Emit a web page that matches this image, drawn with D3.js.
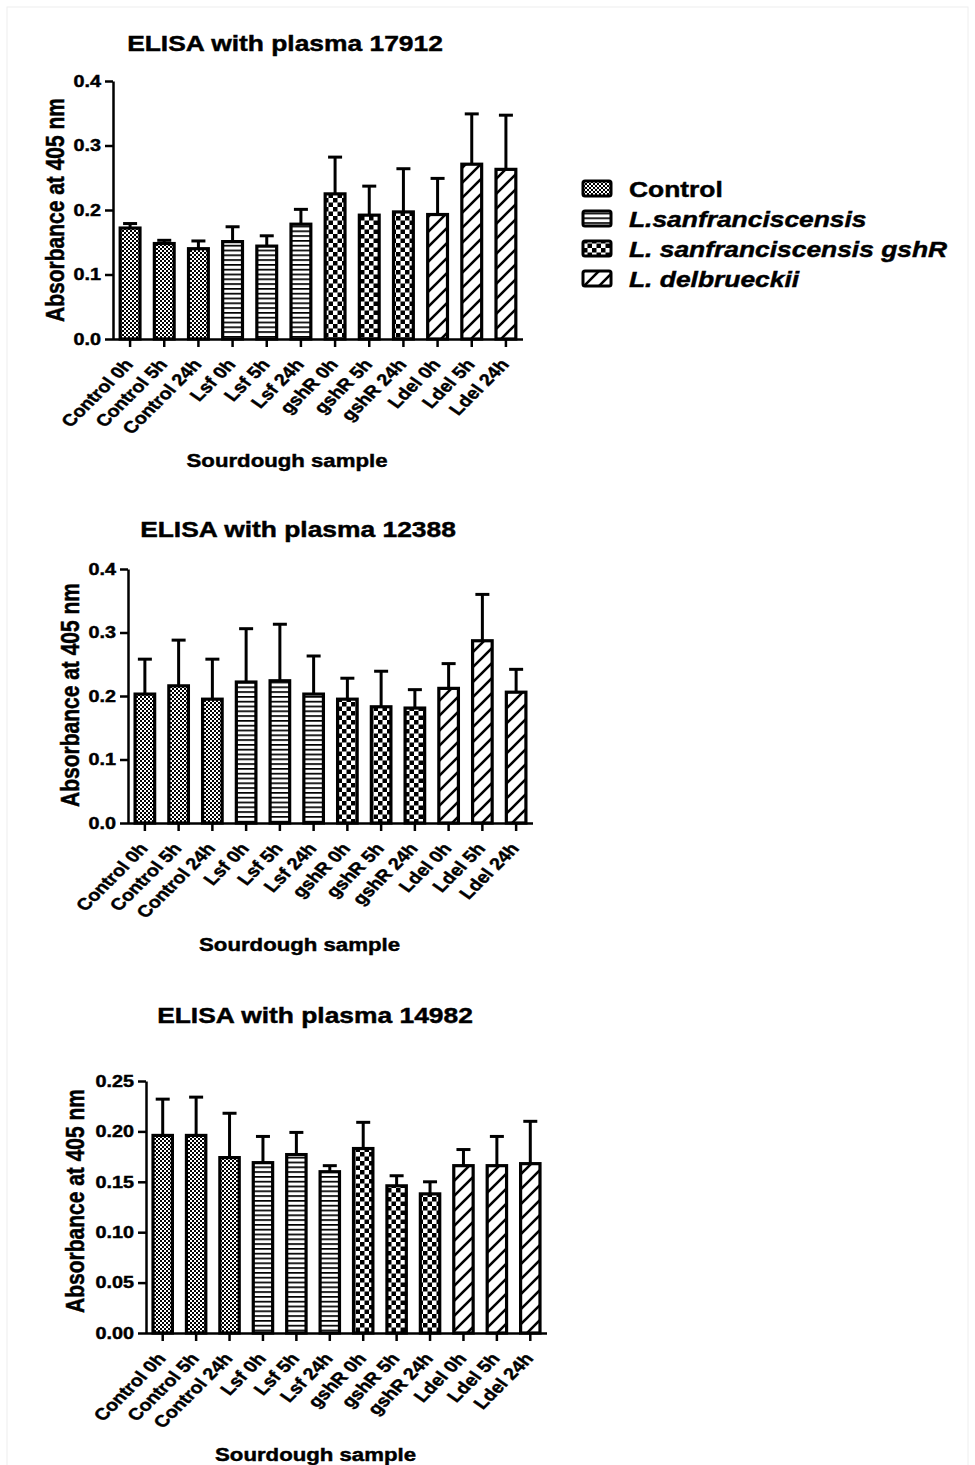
<!DOCTYPE html>
<html lang="en">
<head>
    <meta charset="UTF-8">
    <title>ELISA with plasma</title>
    <script src="https://d3js.org/d3.v7.min.js"></script>
    <style>
        body { margin: 0; background: #fff; }
        text { font-family: "Liberation Sans", Arial, sans-serif; font-weight: bold; fill: #000;
               stroke: #000; stroke-width: 0.45px; }
    </style>
</head>
<body>
<script>
    // samples on the x axis and the strain group of each
    const samples = ["Control 0h", "Control 5h", "Control 24h", "Lsf 0h", "Lsf 5h", "Lsf 24h",
        "gshR 0h", "gshR 5h", "gshR 24h", "Ldel 0h", "Ldel 5h", "Ldel 24h"];
    const sampleGroup = ["control", "control", "control", "lsf", "lsf", "lsf",
        "gshr", "gshr", "gshr", "ldel", "ldel", "ldel"];

    // mean absorbance and SD (upper error bar only)
    const mean17912 = [0.172, 0.148, 0.140, 0.151, 0.144, 0.178, 0.225, 0.192, 0.197, 0.193, 0.271, 0.263];
    const sd17912   = [0.007, 0.005, 0.012, 0.023, 0.016, 0.023, 0.057, 0.045, 0.067, 0.056, 0.078, 0.084];
    const mean12388 = [0.203, 0.216, 0.195, 0.222, 0.224, 0.203, 0.195, 0.183, 0.181, 0.212, 0.287, 0.206];
    const sd12388   = [0.055, 0.072, 0.063, 0.084, 0.089, 0.060, 0.033, 0.056, 0.029, 0.039, 0.073, 0.036];
    const mean14982 = [0.196, 0.196, 0.174, 0.169, 0.177, 0.160, 0.183, 0.146, 0.138, 0.166, 0.166, 0.168];
    const sd14982   = [0.036, 0.038, 0.044, 0.026, 0.022, 0.006, 0.026, 0.010, 0.012, 0.016, 0.029, 0.042];

    const ticks04 = [0, 0.1, 0.2, 0.3, 0.4];
    const ticks025 = [0, 0.05, 0.10, 0.15, 0.20, 0.25];

    const legendKeys = ["control", "lsf", "gshr", "ldel"];
    const legendLabels = ["Control", "L.sanfranciscensis", "L. sanfranciscensis gshR", "L. delbrueckii"];

    const width = 975, height = 1465;
    const SX = 1.2; // the figure's lettering is a little stretched sideways

    const svg = d3.select("body").append("svg")
        .attr("width", width)
        .attr("height", height);

    // faint frame
    svg.append("rect")
        .attr("x", 7).attr("y", 7)
        .attr("width", 961).attr("height", 1480)
        .attr("fill", "none")
        .attr("stroke", "#eeeeee");

    // fill patterns
    const defs = svg.append("defs");
    const pc = defs.append("pattern").attr("id", "p-control")
        .attr("patternUnits", "userSpaceOnUse").attr("width", 4).attr("height", 4);
    pc.append("rect").attr("width", 4).attr("height", 4).attr("fill", "#fff");
    pc.append("rect").attr("width", 2).attr("height", 2).attr("fill", "#000");
    pc.append("rect").attr("x", 2).attr("y", 2).attr("width", 2).attr("height", 2).attr("fill", "#000");

    const pl = defs.append("pattern").attr("id", "p-lsf")
        .attr("patternUnits", "userSpaceOnUse").attr("width", 8).attr("height", 4.8);
    pl.append("rect").attr("width", 8).attr("height", 4.8).attr("fill", "#fff");
    pl.append("rect").attr("y", 0).attr("width", 8).attr("height", 1.7).attr("fill", "#000");

    const pg = defs.append("pattern").attr("id", "p-gshr")
        .attr("patternUnits", "userSpaceOnUse").attr("width", 9).attr("height", 9);
    pg.append("rect").attr("width", 9).attr("height", 9).attr("fill", "#fff");
    pg.append("rect").attr("width", 4.5).attr("height", 4.5).attr("fill", "#000");
    pg.append("rect").attr("x", 4.5).attr("y", 4.5).attr("width", 4.5).attr("height", 4.5).attr("fill", "#000");

    const pd = defs.append("pattern").attr("id", "p-ldel")
        .attr("patternUnits", "userSpaceOnUse").attr("width", 15).attr("height", 15);
    pd.append("rect").attr("width", 15).attr("height", 15).attr("fill", "#fff");
    pd.append("path").attr("d", "M-2,2 L2,-2 M0,15 L15,0 M13,17 L17,13")
        .attr("stroke", "#000").attr("stroke-width", 2.6);

    const fillOf = g => `url(#p-${g})`;

    function panel(cfg) {
        const x = d3.scaleBand().domain(samples)
            .range([cfg.x0, cfg.x1]).paddingInner(0.42).paddingOuter(0.21);
        const y = d3.scaleLinear().domain([0, cfg.ymax]).range([cfg.y0, cfg.y1]);

        const g = svg.append("g");

        const rows = samples.map((s, i) => ({ s, grp: sampleGroup[i], v: cfg.mean[i], e: cfg.sd[i] }));

        // error bars (upper only)
        const eb = g.append("g").selectAll("g").data(rows).join("g")
            .attr("stroke", "#000").attr("stroke-width", 3);
        eb.append("line")
            .attr("x1", d => x(d.s) + x.bandwidth() / 2).attr("x2", d => x(d.s) + x.bandwidth() / 2)
            .attr("y1", d => y(d.v)).attr("y2", d => y(d.v + d.e));
        eb.append("line")
            .attr("x1", d => x(d.s) + x.bandwidth() / 2 - 7).attr("x2", d => x(d.s) + x.bandwidth() / 2 + 7)
            .attr("y1", d => y(d.v + d.e)).attr("y2", d => y(d.v + d.e));

        // bars
        g.append("g").selectAll("rect").data(rows).join("rect")
            .attr("x", d => x(d.s))
            .attr("y", d => y(d.v))
            .attr("width", x.bandwidth())
            .attr("height", d => y(0) - y(d.v))
            .attr("fill", d => fillOf(d.grp))
            .attr("stroke", "#000")
            .attr("stroke-width", 3.2);

        // y axis
        const ya = g.append("g")
            .attr("transform", `translate(${cfg.x0},0)`)
            .call(d3.axisLeft(y).tickValues(cfg.ticks).tickFormat(d3.format(cfg.fmt))
                .tickSize(8).tickSizeOuter(0).tickPadding(3));
        ya.selectAll("path, line").attr("stroke", "#000").attr("stroke-width", 2.5);
        ya.selectAll("text")
            .attr("font-size", 16.5)
            .attr("font-family", null)
            .attr("fill", null)
            .attr("transform", `scale(${SX},1)`)
            .attr("x", -12 / SX);

        // x axis
        const xa = g.append("g")
            .attr("transform", `translate(0,${cfg.y0})`)
            .call(d3.axisBottom(x).tickSize(8).tickSizeOuter(0).tickFormat(""));
        xa.select("path").attr("d", `M${cfg.x0},0.5H${cfg.x1}`);
        xa.selectAll("path, line").attr("stroke", "#000").attr("stroke-width", 2.5);

        // rotated sample labels
        g.append("g").selectAll("text").data(samples).join("text")
            .attr("transform", s => `translate(${x(s) + x.bandwidth() / 2 + 4},${cfg.y0 + 26}) scale(${SX},1) rotate(-50)`)
            .attr("text-anchor", "end")
            .attr("font-size", 16.5)
            .text(s => s);

        // titles
        g.append("text")
            .attr("transform", `translate(${cfg.tx},${cfg.ty}) scale(${SX},1)`)
            .attr("text-anchor", "middle")
            .attr("font-size", 22)
            .text(cfg.title);

        g.append("text")
            .attr("transform", `translate(${(cfg.x0 + cfg.x1) / 2 - 31},${cfg.y0 + 128}) scale(${SX},1)`)
            .attr("text-anchor", "middle")
            .attr("font-size", 18.5)
            .text("Sourdough sample");

        g.append("text")
            .attr("transform", `translate(${cfg.yl},${cfg.yc}) scale(${SX},1) rotate(-90)`)
            .attr("text-anchor", "middle")
            .attr("dy", "0.35em")
            .attr("font-size", 21)
            .text("Absorbance at 405 nm");
    }

    panel({ title: "ELISA with plasma 17912", mean: mean17912, sd: sd17912, ymax: 0.4, ticks: ticks04, fmt: ".1f",
        x0: 113, x1: 523, y0: 339, y1: 81, tx: 285, ty: 51, yl: 55, yc: 210 });
    panel({ title: "ELISA with plasma 12388", mean: mean12388, sd: sd12388, ymax: 0.4, ticks: ticks04, fmt: ".1f",
        x0: 128, x1: 533, y0: 823, y1: 569, tx: 298, ty: 537, yl: 70, yc: 695 });
    panel({ title: "ELISA with plasma 14982", mean: mean14982, sd: sd14982, ymax: 0.25, ticks: ticks025, fmt: ".2f",
        x0: 146, x1: 547, y0: 1333, y1: 1081, tx: 315, ty: 1023, yl: 75, yc: 1201 });

    // legend
    const lg = svg.append("g").selectAll("g").data(legendKeys).join("g")
        .attr("transform", (k, i) => `translate(583,${197 + i * 30})`);
    lg.append("rect")
        .attr("x", 0).attr("y", -16)
        .attr("width", 28).attr("height", 15)
        .attr("rx", 2)
        .attr("fill", k => fillOf(k))
        .attr("stroke", "#000").attr("stroke-width", 3);
    lg.append("text")
        .attr("transform", `translate(46,0) scale(${SX},1)`)
        .attr("font-size", 22)
        .attr("font-style", (k, i) => i === 0 ? "normal" : "italic")
        .text((k, i) => legendLabels[i]);
</script>
</body>
</html>
